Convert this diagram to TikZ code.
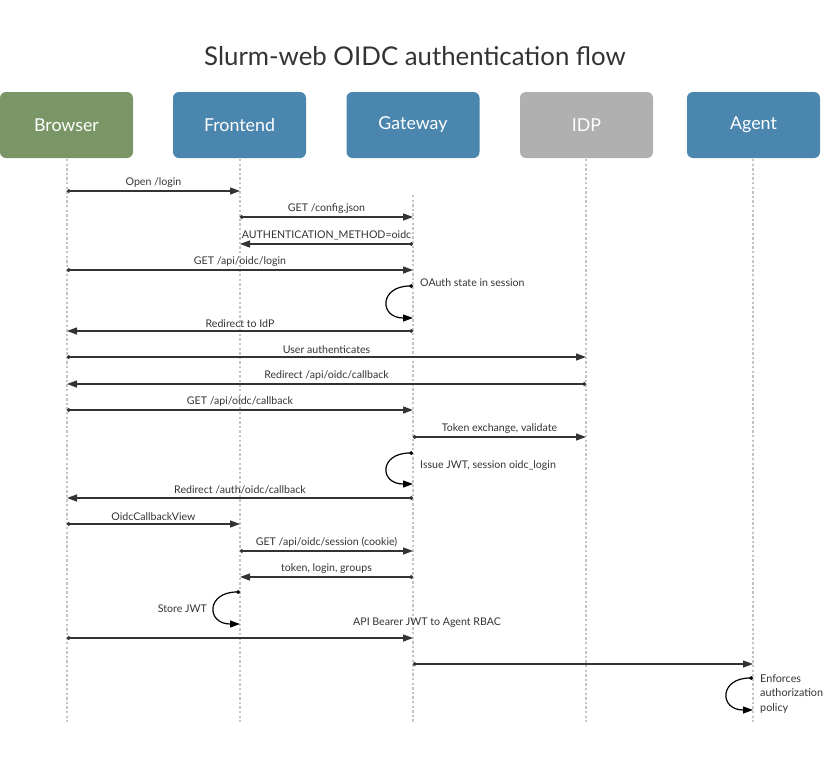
\documentclass[tikz,border=0pt]{standalone}
\usepackage{fontspec}
\setmainfont{Lato}
\usetikzlibrary{arrows.meta}
\definecolor{bgreen}{HTML}{7A9566}
\definecolor{sblue}{HTML}{4A86AD}
\definecolor{idpgray}{HTML}{B0B0B0}
\definecolor{ink}{HTML}{333333}
\definecolor{lifec}{HTML}{C4C4C4}
\tikzset{
  actor/.style={rounded corners=6pt, minimum width=133pt, minimum height=66pt, inner sep=0pt, text=white, font=\fontsize{17.8}{20}\selectfont},
  life/.style={draw=lifec, line width=2.8pt, dash pattern=on 2.4pt off 2.2pt},
  msgarrow/.style={draw=ink, line width=1.3pt, {Circle[length=3.6pt]}-{Triangle[length=10pt,width=7pt]}},
  loopar/.style={draw=black, line width=1.2pt, {Circle[length=3.6pt]}-{Triangle[length=10pt,width=7pt]}},
  lbl/.style={font=\fontsize{10.6}{13.5}\selectfont, text=ink, inner sep=2pt},
}
\newcommand\mymsg[5]{%
  \coordinate (#1s) at (#2,#4);
  \coordinate (#1e) at (#3,#4);
  \draw[msgarrow] (#1s) -- node[lbl, above=1pt] (#1l) {#5} (#1e);
}
\newcommand\myloop[4]{%
  \coordinate (#1s) at (#2,#3);
  \coordinate (#1e) at (#2,#4);
  \draw[loopar] (#1s) .. controls +(-34,0) and +(-34,0) .. (#1e);
}
\begin{document}
\begin{tikzpicture}[x=1pt,y=-1pt]
\useasboundingbox (0,0) rectangle (825,756);
\node[font=\fontsize{25.8}{30}\selectfont, text=ink] (title) at (415,56) {Slurm-web OIDC authentication flow};

\node[actor, fill=bgreen] (browser) at (66.5,125) {Browser};
\node[actor, fill=sblue] (frontend) at (239.5,125) {Frontend};
\node[actor, fill=sblue] (gateway) at (413,125) {Gateway};
\node[actor, fill=idpgray] (idp) at (586.5,125) {IDP};
\node[actor, fill=sblue] (agent) at (753.5,125) {Agent};

\coordinate (browserend) at (67,722);
\coordinate (frontendend) at (240,722);
\coordinate (gatewayend) at (413,722);
\coordinate (idpend) at (586,722);
\coordinate (agentend) at (753,722);
\coordinate (browsertop) at (67,159);
\coordinate (frontendtop) at (240,159);
\coordinate (gatewaytop) at (413,195);
\coordinate (idptop) at (586,159);
\coordinate (agenttop) at (753,159);
\foreach \a in {browser,frontend,gateway,idp,agent}{\draw[life] (\a top) -- (\a end);}

\mymsg{m1}{67}{240}{191}{Open /login}
\mymsg{m2}{240}{413}{217}{GET /config.json}
\mymsg{m3}{413}{240}{244}{AUTHENTICATION\_METHOD=oidc}
\mymsg{m4}{67}{413}{270}{GET /api/oidc/login}
\myloop{l1}{413}{286}{318}
\node[lbl, anchor=west] (l1l) at (418,283) {OAuth state in session};
\mymsg{m6}{413}{67}{331}{Redirect to IdP}
\mymsg{m7}{67}{586}{357}{User authenticates}
\mymsg{m8}{586}{67}{384}{Redirect /api/oidc/callback}
\mymsg{m9}{67}{413}{410}{GET /api/oidc/callback}
\mymsg{m10}{413}{586}{437}{Token exchange, validate}
\myloop{l2}{413}{453}{484}
\node[lbl, anchor=west] (l2l) at (418,466) {Issue JWT, session oidc\_login};
\mymsg{m12}{413}{67}{498}{Redirect /auth/oidc/callback}
\mymsg{m13}{67}{240}{524}{OidcCallbackView}
\mymsg{m14}{240}{413}{551}{GET /api/oidc/session (cookie)}
\mymsg{m15}{413}{240}{577}{token, login, groups}
\myloop{l3}{240}{592}{624}
\node[lbl, anchor=east] (l3l) at (209,609) {Store JWT};
\coordinate (m17s) at (67,638);
\coordinate (m17e) at (413,638);
\draw[msgarrow] (m17s) -- (m17e);
\node[lbl] (m17l) at (427,623) {API Bearer JWT to Agent RBAC};
\mymsg{m18}{413}{753}{664}{}
\myloop{l4}{753}{678}{710}
\node[lbl, anchor=north west, align=left, font=\fontsize{10.8}{14.5}\selectfont] (l4l) at (758,672) {Enforces\\authorization\\policy};
\end{tikzpicture}
\end{document}
